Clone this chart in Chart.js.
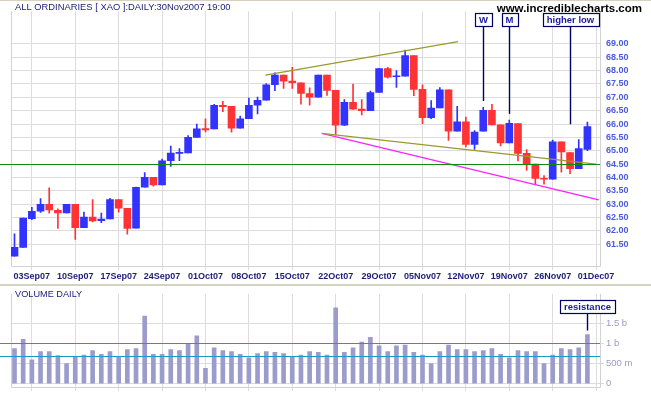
<!DOCTYPE html>
<html lang="en">
<head>
<meta charset="UTF-8" />
<title>All Ordinaries daily</title>
<script src="https://cdn.jsdelivr.net/npm/chart.js@4/dist/chart.umd.min.js"></script>
<style>
  body { margin: 0; background: #fff; }
  #wrap { position: relative; width: 651px; height: 395px; overflow: hidden; background: #fff; }
  #price { position: absolute; left: 0; top: 0; }
  #vol { position: absolute; left: 0; top: 286px; }
  .rule { position: absolute; left: 0; width: 651px; background: #d6d2c2; }
</style>
</head>
<body>
<div id="wrap">
  <canvas id="price" width="651" height="284"></canvas>
  <canvas id="vol" width="651" height="109"></canvas>
  <div class="rule" style="top:0;height:1px"></div>
  <div class="rule" style="top:284px;height:2px"></div>
</div>
<script>
// week gridlines (trading day index) and their labels
const weekTicks  = [2, 7, 12, 17, 22, 27, 32, 37, 42, 47, 52, 57, 62, 67];
const weekLabels = ['03Sep07','10Sep07','17Sep07','24Sep07','01Oct07','08Oct07','15Oct07',
                    '22Oct07','29Oct07','05Nov07','12Nov07','19Nov07','26Nov07','01Dec07'];

// daily OHLC, 30 Aug 2007 .. 30 Nov 2007
const opens  = [61.05,61.38,62.45,62.73,62.99,62.77,62.67,62.99,62.12,62.51,62.38,62.44,63.17,62.84,62.10,63.63,64.00,
                63.72,64.63,64.90,64.92,65.50,65.83,65.82,66.70,66.66,65.84,66.20,66.71,66.89,67.47,67.83,67.61,67.54,
                67.14,67.01,67.83,67.26,65.96,66.81,66.56,66.50,67.18,68.08,67.77,67.79,68.56,67.30,66.24,66.60,67.28,
                65.73,66.08,65.24,65.73,66.51,65.97,65.29,66.02,64.90,64.50,63.96,63.93,65.33,64.93,64.33,65.05];
const highs  = [61.89,62.48,62.88,63.21,63.61,62.82,62.99,62.99,62.70,63.17,62.66,63.22,63.17,62.84,63.64,64.18,64.00,
                64.69,65.17,65.08,65.57,66.00,66.19,66.74,66.85,66.66,66.30,66.97,67.01,67.52,67.92,67.83,68.12,67.54,
                67.36,67.83,67.83,67.26,66.92,67.50,66.92,67.23,68.09,68.12,68.00,68.77,68.56,67.47,66.88,67.37,67.28,
                66.66,66.26,65.75,66.63,66.74,65.97,66.15,66.02,65.04,64.50,64.07,65.40,65.33,64.93,65.42,66.07];
const lows   = [61.05,61.38,62.42,62.69,62.66,62.09,62.67,61.68,62.12,62.33,62.30,62.44,62.70,61.87,62.10,63.63,63.67,
                63.72,64.41,64.63,64.92,65.50,65.70,65.82,66.46,65.69,65.84,66.20,66.38,66.89,67.25,67.33,67.33,66.74,
                66.71,67.01,67.07,65.59,65.94,66.55,66.34,66.50,67.18,67.72,67.37,67.79,67.06,66.01,66.20,66.60,65.39,
                65.73,65.14,65.05,65.73,65.97,65.18,65.29,64.62,64.26,63.74,63.75,63.93,64.20,64.14,64.33,65.00];
const closes = [61.38,62.48,62.73,62.99,62.78,62.67,62.99,62.12,62.51,62.37,62.44,63.17,62.85,62.09,63.63,64.00,63.72,
                64.62,64.91,64.92,65.50,65.82,65.78,66.70,66.65,65.84,66.19,66.70,66.89,67.47,67.83,67.61,67.55,67.15,
                67.01,67.83,67.26,65.96,66.81,66.56,66.50,67.18,68.08,67.76,67.79,68.56,67.30,66.24,66.60,67.28,65.73,
                66.08,65.24,65.70,66.51,65.97,65.29,66.03,64.90,64.50,63.96,63.93,65.33,64.95,64.33,65.08,65.90];

// daily volume in billions
const volumes = [0.87,1.10,0.59,0.80,0.80,0.70,0.50,0.66,0.71,0.82,0.73,0.80,0.66,0.85,0.87,1.68,0.73,0.73,0.85,0.82,
                 0.98,1.19,0.38,0.89,0.82,0.80,0.73,0.64,0.75,0.80,0.78,0.75,0.66,0.71,0.80,0.78,0.71,1.88,0.78,0.89,
                 1.03,1.15,0.94,0.80,0.94,0.96,0.78,0.71,0.50,0.80,0.96,0.85,0.85,0.80,0.82,0.87,0.73,0.64,0.82,0.80,
                 0.80,0.50,0.71,0.87,0.85,0.89,1.22];

const priceTicks = [61.5, 62, 62.5, 63, 63.5, 64, 64.5, 65, 65.5, 66, 66.5, 67, 67.5, 68, 68.5, 69];
const volTicks = [0, 0.5, 1, 1.5];
const volTickLabels = ['0', '500 m', '1 b', '1.5 b'];

// trend lines drawn on the chart
const upperTrend = [{x: 28.9, y: 67.83}, {x: 51.1, y: 69.09}];
const lowerTrend = [{x: 35.4, y: 65.65}, {x: 67.0, y: 64.50}];
const supportTrend = [{x: 35.4, y: 65.65}, {x: 67.3, y: 63.16}];
const supportLevel = [64.5];
const volLevels = [1.0, 0.7];

const priceNotes = [
  {text: 'W', at: 54, end: 66.86},
  {text: 'M', at: 57, end: 66.38},
  {text: 'higher low', at: 64, end: 65.99}
];
const volNotes = [{text: 'resistance', at: 66, end: 1.32}];

const fam = '"Liberation Sans", Arial, sans-serif';
const UP = '#3333ff', DOWN = '#ff3333';
const GRID = '#dcdcdc';
const NAVY = '#1c1c78';

Chart.defaults.font.family = fam;

const candleColor = (c) => closes[c.dataIndex] >= opens[c.dataIndex] ? UP : DOWN;

function frame(id) {
  return { id: id, beforeDatasetsDraw(chart) {
    const {ctx, chartArea: a} = chart;
    ctx.save();
    ctx.strokeStyle = '#d2d2d2';
    ctx.lineWidth = 1;
    ctx.beginPath();
    ctx.moveTo(a.left + 0.5, a.top);
    ctx.lineTo(a.left + 0.5, Math.round(a.bottom) + 0.5);
    ctx.lineTo(Math.round(a.right) + 0.5, Math.round(a.bottom) + 0.5);
    ctx.lineTo(Math.round(a.right) + 0.5, a.top);
    ctx.stroke();
    ctx.restore();
  }};
}

function levels(id, values, color) {
  return { id: id, afterDatasetsDraw(chart) {
    const {ctx, chartArea} = chart;
    const s = chart.scales.y;
    ctx.save();
    ctx.strokeStyle = color;
    ctx.lineWidth = 1.2;
    values.forEach(v => {
      const y = Math.round(s.getPixelForValue(v)) + 0.5;
      ctx.beginPath();
      ctx.moveTo(0, y);
      ctx.lineTo(chartArea.right, y);
      ctx.stroke();
    });
    ctx.restore();
  }};
}

function notes(id, list, boxTop) {
  return { id: id, afterDraw(chart) {
    const {ctx} = chart;
    const sx = chart.scales.x, sy = chart.scales.y;
    ctx.save();
    ctx.font = 'bold 9.5px ' + fam;
    ctx.textAlign = 'center';
    ctx.textBaseline = 'middle';
    list.forEach(n => {
      const x = Math.round(sx.getPixelForValue(n.at)) + 0.5;
      const w = Math.round(ctx.measureText(n.text).width) + 8;
      const h = 13;
      const bx = Math.round(x - w / 2) + 0.5;
      ctx.strokeStyle = '#000066';
      ctx.lineWidth = 1.4;
      ctx.beginPath();
      ctx.moveTo(x, boxTop + h);
      ctx.lineTo(x, sy.getPixelForValue(n.end));
      ctx.stroke();
      ctx.fillStyle = '#fff';
      ctx.fillRect(bx, boxTop + 0.5, w, h);
      ctx.lineWidth = 1.2;
      ctx.strokeRect(bx, boxTop + 0.5, w, h);
      ctx.fillStyle = '#1a1aa0';
      ctx.fillText(n.text, x, boxTop + h / 2 + 1);
    });
    ctx.restore();
  }};
}

const titles = { id: 'titles', afterDraw(chart) {
  const {ctx} = chart;
  ctx.save();
  ctx.fillStyle = NAVY;
  ctx.font = '9.4px ' + fam;
  ctx.textAlign = 'left';
  ctx.fillText('ALL ORDINARIES [ XAO ]:DAILY:30Nov2007 19:00', 15, 10);
  ctx.fillStyle = '#000';
  ctx.font = 'bold 11.5px ' + fam;
  ctx.textAlign = 'right';
  ctx.fillText('www.incrediblecharts.com', 642, 11.7);
  ctx.restore();
}};

const volTitle = { id: 'voltitle', afterDraw(chart) {
  const {ctx} = chart;
  ctx.save();
  ctx.fillStyle = NAVY;
  ctx.font = '9.2px ' + fam;
  ctx.fillText('VOLUME DAILY', 15, 11);
  ctx.restore();
}};

const xScale = (showLabels, height) => ({
  type: 'linear', min: -0.403, max: 67.45, offset: false,
  afterBuildTicks: s => { s.ticks = weekTicks.map(v => ({value: v})); },
  afterFit: s => { s.height = height; },
  ticks: {
    display: showLabels, autoSkip: false, maxRotation: 0, padding: 1,
    color: NAVY, font: {size: 9, weight: 'bold'},
    callback: (v, i) => weekLabels[i]
  },
  grid: {color: GRID, tickLength: 4, offset: false},
  border: {display: false}
});

new Chart(document.getElementById('price'), {
  type: 'bar',
  data: {
    datasets: [
      {type: 'line', data: upperTrend, borderColor: '#9a9a2e', borderWidth: 1.3, pointRadius: 0, order: 0},
      {type: 'line', data: lowerTrend, borderColor: '#9a9a2e', borderWidth: 1.3, pointRadius: 0, order: 0},
      {type: 'line', data: supportTrend, borderColor: '#ff22ff', borderWidth: 1.3, pointRadius: 0, order: 0},
      {data: opens.map((o, i) => ({x: i, y: [o, closes[i]]})), backgroundColor: candleColor,
       barThickness: 7, minBarLength: 1, grouped: false, order: 1},
      {data: lows.map((l, i) => ({x: i, y: [l, highs[i]]})), backgroundColor: candleColor,
       barThickness: 1, grouped: false, order: 2}
    ]
  },
  options: {
    responsive: false, animation: false,
    layout: {padding: {left: 11, top: 2, right: 0, bottom: 0}},
    plugins: {legend: {display: false}, tooltip: {enabled: false}},
    scales: {
      x: xScale(true, 18),
      y: {
        position: 'right', min: 60.68, max: 70.22,
        afterBuildTicks: s => { s.ticks = priceTicks.map(v => ({value: v})); },
        afterFit: s => { s.width = 51; },
        ticks: {padding: 6, color: '#4a5ae0', font: {size: 9, weight: 'bold'}, callback: v => v.toFixed(2)},
        grid: {color: GRID, drawTicks: false},
        border: {display: false}
      }
    }
  },
  plugins: [frame('frame1'), levels('support', supportLevel, '#118811'), notes('notes1', priceNotes, 13), titles]
});

new Chart(document.getElementById('vol'), {
  type: 'bar',
  data: {
    datasets: [
      {data: volumes.map((v, i) => ({x: i, y: v})), backgroundColor: '#9c9ccc', barThickness: 4, grouped: false}
    ]
  },
  options: {
    responsive: false, animation: false,
    layout: {padding: {left: 11, top: 1.5, right: 0, bottom: 0}},
    plugins: {legend: {display: false}, tooltip: {enabled: false}},
    scales: {
      x: xScale(false, 8),
      y: {
        position: 'right', min: -0.081, max: 2.233,
        afterBuildTicks: s => { s.ticks = volTicks.map(v => ({value: v})); },
        afterFit: s => { s.width = 51; },
        ticks: {padding: 2, color: '#9a9ac4', font: {size: 9.5}, callback: (v, i) => volTickLabels[i]},
        grid: {color: GRID, tickLength: 4},
        border: {display: false}
      }
    }
  },
  plugins: [frame('frame2'), levels('vlevels', volLevels, '#1a9ac6'), notes('notes2', volNotes, 14), volTitle]
});
</script>
</body>
</html>
